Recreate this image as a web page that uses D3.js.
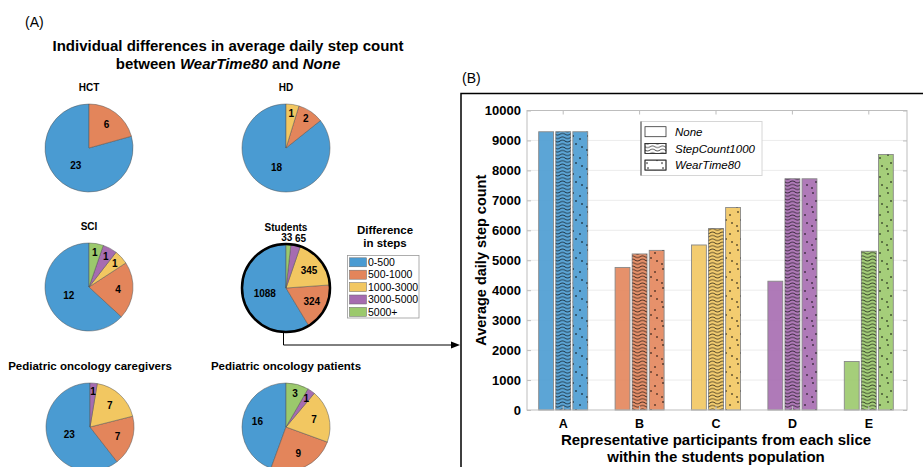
<!DOCTYPE html>
<html>
<head>
<meta charset="utf-8">
<script src="https://cdn.jsdelivr.net/npm/d3@7"></script>
<style>
  body { margin: 0; background: #fff; }
  text { font-family: "Liberation Sans", Arial, sans-serif; fill: #000; }
</style>
</head>
<body>
<div id="chart"></div>
<script>
const width = 923
const height = 467

// ---- panel A data: participants per step-difference slice ----
const sliceLabels = ['0-500', '500-1000', '1000-3000', '3000-5000', '5000+']
const populations = ['HCT', 'HD', 'SCI', 'Students', 'Pediatric oncology caregivers', 'Pediatric oncology patients']
const hctCounts = [23, 6, 0, 0, 0]
const hdCounts = [18, 2, 1, 0, 0]
const sciCounts = [12, 4, 1, 1, 1]
const studentCounts = [1088, 324, 345, 65, 33]
const caregiverCounts = [23, 7, 7, 1, 0]
const patientCounts = [16, 9, 7, 1, 3]

// ---- panel B data: average daily steps for representative students ----
const participants = ['A', 'B', 'C', 'D', 'E']
const strategies = ['None', 'StepCount1000', 'WearTime80']
const noneSteps = [9290, 4760, 5510, 4300, 1620]
const stepCount1000Steps = [9290, 5210, 6060, 7720, 5300]
const wearTime80Steps = [9290, 5330, 6760, 7720, 8530]
const yTickValues = [0, 1000, 2000, 3000, 4000, 5000, 6000, 7000, 8000, 9000, 10000]

const sliceColors = ['#4a9bd2', '#e3855b', '#f2c761', '#a66cb0', '#9bc96c']
const colorScale = d3.scaleOrdinal().domain(sliceLabels).range(sliceColors)

const svg = d3
  .select('#chart')
  .append('svg')
  .attr('width', width)
  .attr('height', height)

// patterns for the strategies
const defs = svg.append('defs')
const wave = defs
  .append('pattern')
  .attr('id', 'wave')
  .attr('patternUnits', 'userSpaceOnUse')
  .attr('width', 10)
  .attr('height', 3.4)
wave
  .append('path')
  .attr('d', 'M0,1.7 C1.7,0.6 3.3,0.6 5,1.7 S8.3,2.8 10,1.7')
  .attr('fill', 'none')
  .attr('stroke', '#000')
  .attr('stroke-width', 0.7)

const dots = defs
  .append('pattern')
  .attr('id', 'dots')
  .attr('patternUnits', 'userSpaceOnUse')
  .attr('width', 15)
  .attr('height', 19)
;[[3, 3], [10, 6], [6, 11], [12, 14], [2, 17]].forEach(p => {
  dots.append('circle').attr('cx', p[0]).attr('cy', p[1]).attr('r', 0.8).attr('fill', '#000')
})
const patternFor = { None: null, StepCount1000: 'url(#wave)', WearTime80: 'url(#dots)' }

// ================= PANEL A =================
svg.append('text').attr('x', 25).attr('y', 27).attr('font-size', 14).text('(A)')

const titleA = svg
  .append('text')
  .attr('x', 228)
  .attr('text-anchor', 'middle')
  .attr('font-size', 15)
  .attr('font-weight', 'bold')
titleA.append('tspan').attr('x', 228).attr('y', 51).text('Individual differences in average daily step count')
const t2 = titleA.append('tspan').attr('x', 228).attr('y', 69)
t2.append('tspan').text('between ')
t2.append('tspan').attr('font-style', 'italic').text('WearTime80')
t2.append('tspan').text(' and ')
t2.append('tspan').attr('font-style', 'italic').text('None')

const pieCounts = [hctCounts, hdCounts, sciCounts, studentCounts, caregiverCounts, patientCounts]
const pieSpots = [[89, 148], [286, 148], [89, 287], [286, 288], [90, 427], [286, 427]]
const pieR = 44

// MATLAB style: counter-clockwise from 12 o'clock
const pie = d3.pie().sort(null).value(d => d.v).startAngle(0).endAngle(-2 * Math.PI)
const arc = d3.arc().innerRadius(0).outerRadius(pieR)

function isOutside(frac, txt) {
  return frac < 0.05 && txt.length > 1
}
function labelRadius(frac, txt) {
  if (isOutside(frac, txt)) return pieR + 7
  if (frac > 0.5) return pieR * 0.5
  if (frac > 0.1) return pieR * 0.66
  return pieR * 0.8
}

pieCounts.forEach((counts, i) => {
  const name = populations[i]
  const g = svg.append('g').attr('transform', `translate(${pieSpots[i]})`)
  const total = d3.sum(counts)
  const arcs = pie(counts.map((v, k) => ({ v, k }))).filter(d => d.data.v > 0)

  g.append('text')
    .attr('y', -57)
    .attr('text-anchor', 'middle')
    .attr('font-weight', 'bold')
    .attr('font-size', name.length > 10 ? 11.5 : 10)
    .text(name)

  g.selectAll('.slice')
    .data(arcs)
    .enter()
    .append('path')
    .attr('class', 'slice')
    .attr('d', arc)
    .attr('fill', d => colorScale(sliceLabels[d.data.k]))
    .attr('stroke', '#555')
    .attr('stroke-width', 0.5)

  if (name === 'Students') {
    g.append('circle').attr('r', pieR).attr('fill', 'none').attr('stroke', '#000').attr('stroke-width', 2.5)
  }

  g.selectAll('.lbl')
    .data(arcs)
    .enter()
    .append('text')
    .attr('class', 'lbl')
    .attr('text-anchor', 'middle')
    .attr('dy', '0.35em')
    .attr('font-size', 10)
    .attr('font-weight', 'bold')
    .attr('x', d => {
      const a = (d.startAngle + d.endAngle) / 2
      const frac = d.data.v / total
      const txt = String(d.data.v)
      // outside labels get spread sideways so neighbours don't collide
      if (isOutside(frac, txt)) return Math.sin(a) * (pieR + 40) - 4
      return Math.sin(a) * labelRadius(frac, txt)
    })
    .attr('y', d => {
      const a = (d.startAngle + d.endAngle) / 2
      return -Math.cos(a) * labelRadius(d.data.v / total, String(d.data.v))
    })
    .text(d => d.data.v)
})

// legend for slices
const legA = svg.append('g')
legA.append('text').attr('x', 385).attr('y', 234).attr('text-anchor', 'middle')
  .attr('font-size', 11.5).attr('font-weight', 'bold').text('Difference')
legA.append('text').attr('x', 385).attr('y', 247).attr('text-anchor', 'middle')
  .attr('font-size', 11.5).attr('font-weight', 'bold').text('in steps')
legA.append('rect').attr('x', 347.5).attr('y', 255.5).attr('width', 71.5).attr('height', 62.5)
  .attr('fill', '#fff').attr('stroke', '#999').attr('stroke-width', 0.8)
const legRows = legA.selectAll('.row').data(sliceLabels).enter().append('g')
  .attr('transform', (d, i) => `translate(0,${262.3 + i * 12.4})`)
legRows.append('rect').attr('x', 349.5).attr('y', -4.5).attr('width', 17).attr('height', 9)
  .attr('fill', d => colorScale(d)).attr('stroke', '#666').attr('stroke-width', 0.5)
legRows.append('text').attr('x', 368).attr('dy', '0.36em').attr('font-size', 10.5).text(d => d)

// connector arrow from Students pie to panel B
svg.append('path')
  .attr('d', `M283.5,${288 + pieR} V345 H453`)
  .attr('fill', 'none').attr('stroke', '#000').attr('stroke-width', 1)
svg.append('path').attr('d', 'M460,345 L451,341.5 L451,348.5 Z').attr('fill', '#000')

// ================= PANEL B =================
svg.append('text').attr('x', 462).attr('y', 83).attr('font-size', 14).text('(B)')
svg.append('path').attr('d', 'M461,467 V93.5 H923').attr('fill', 'none').attr('stroke', '#000').attr('stroke-width', 1.5)

const plot = { left: 527, right: 907, top: 110.5, bottom: 410 }

const x = d3.scaleBand().domain(participants).range([525, 907]).padding(0)
const xs = d3.scaleBand().domain(strategies).range([-24.5, 24.5]).paddingInner(0.13)
const y = d3.scaleLinear().domain([0, 10000]).range([plot.bottom, plot.top])

// grid
svg.append('g').selectAll('line').data(yTickValues.slice(1, -1)).enter().append('line')
  .attr('x1', plot.left).attr('x2', plot.right)
  .attr('y1', d => y(d)).attr('y2', d => y(d))
  .attr('stroke', '#ececec').attr('stroke-width', 1)

const stepSeries = { None: noneSteps, StepCount1000: stepCount1000Steps, WearTime80: wearTime80Steps }
const barData = []
participants.forEach((p, i) => {
  strategies.forEach(s => barData.push({ p, s, v: stepSeries[s][i], color: sliceColors[i] }))
})

const bars = svg.append('g').selectAll('.bar').data(barData).enter().append('g').attr('class', 'bar')
bars.append('rect')
  .attr('x', d => x(d.p) + x.bandwidth() / 2 + xs(d.s))
  .attr('width', xs.bandwidth())
  .attr('y', d => y(d.v))
  .attr('height', d => y(0) - y(d.v))
  .attr('fill', d => d.color)
  .attr('fill-opacity', 0.9)
  .attr('stroke', '#888')
  .attr('stroke-width', 0.9)
bars.filter(d => patternFor[d.s]).append('rect')
  .attr('x', d => x(d.p) + x.bandwidth() / 2 + xs(d.s))
  .attr('width', xs.bandwidth())
  .attr('y', d => y(d.v))
  .attr('height', d => y(0) - y(d.v))
  .attr('fill', d => patternFor[d.s])

// axis box
svg.append('rect').attr('x', plot.left).attr('y', plot.top)
  .attr('width', plot.right - plot.left).attr('height', plot.bottom - plot.top)
  .attr('fill', 'none').attr('stroke', '#bdbdbd').attr('stroke-width', 1)

const xAxis = d3.axisBottom(x).tickSize(-4).tickPadding(9)
const gx = svg.append('g').attr('transform', `translate(0,${plot.bottom})`).call(xAxis)
gx.select('.domain').remove()
gx.selectAll('line').attr('stroke', '#bdbdbd')
gx.selectAll('text').attr('font-size', 12.5).attr('font-weight', 'bold')
  .style('font-family', '"Liberation Sans", Arial, sans-serif').attr('fill', '#000')

const gxt = svg.append('g').attr('transform', `translate(0,${plot.top})`)
  .call(d3.axisTop(x).tickSize(-4).tickFormat(''))
gxt.select('.domain').remove()
gxt.selectAll('line').attr('stroke', '#bdbdbd')

const yAxis = d3.axisLeft(y).tickValues(yTickValues).tickSize(-4).tickPadding(6).tickFormat(d3.format('d'))
const gy = svg.append('g').attr('transform', `translate(${plot.left},0)`).call(yAxis)
gy.select('.domain').remove()
gy.selectAll('line').attr('stroke', '#bdbdbd')
gy.selectAll('text').attr('font-size', 13).attr('font-weight', 'bold')
  .style('font-family', '"Liberation Sans", Arial, sans-serif').attr('fill', '#000')

const gyr = svg.append('g').attr('transform', `translate(${plot.right},0)`)
  .call(d3.axisRight(y).tickValues(yTickValues).tickSize(-4).tickFormat(''))
gyr.select('.domain').remove()
gyr.selectAll('line').attr('stroke', '#bdbdbd')

// axis titles
svg.append('text')
  .attr('transform', `translate(486,${(plot.top + plot.bottom) / 2}) rotate(-90)`)
  .attr('text-anchor', 'middle').attr('font-size', 14.5).attr('font-weight', 'bold')
  .text('Average daily step count')
const xt = svg.append('text').attr('text-anchor', 'middle').attr('font-size', 15).attr('font-weight', 'bold')
xt.append('tspan').attr('x', 716).attr('y', 444.5).text('Representative participants from each slice')
xt.append('tspan').attr('x', 716).attr('y', 461.5).text('within the students population')

// strategy legend
const legB = svg.append('g')
legB.append('rect').attr('x', 641).attr('y', 121.5).attr('width', 121).attr('height', 54)
  .attr('fill', '#fff').attr('stroke', '#d6d6d6').attr('stroke-width', 1)
legB.append('line').attr('x1', 641).attr('x2', 641).attr('y1', 121.5).attr('y2', 175.5)
  .attr('stroke', '#444').attr('stroke-width', 1)
const legBRows = legB.selectAll('.row').data(strategies).enter().append('g')
  .attr('transform', (d, i) => `translate(0,${131.7 + i * 16.7})`)
legBRows.append('rect').attr('x', 645).attr('y', -5).attr('width', 21).attr('height', 10)
  .attr('fill', '#fff').attr('stroke', '#333').attr('stroke-width', 0.8)
legBRows.filter(d => patternFor[d]).append('rect').attr('x', 645).attr('y', -5).attr('width', 21).attr('height', 10)
  .attr('fill', d => patternFor[d]).attr('stroke', '#333').attr('stroke-width', 0.8)
legBRows.append('text').attr('x', 675).attr('dy', '0.36em').attr('font-size', 11.5)
  .attr('font-style', 'italic').text(d => d)
</script>
</body>
</html>
